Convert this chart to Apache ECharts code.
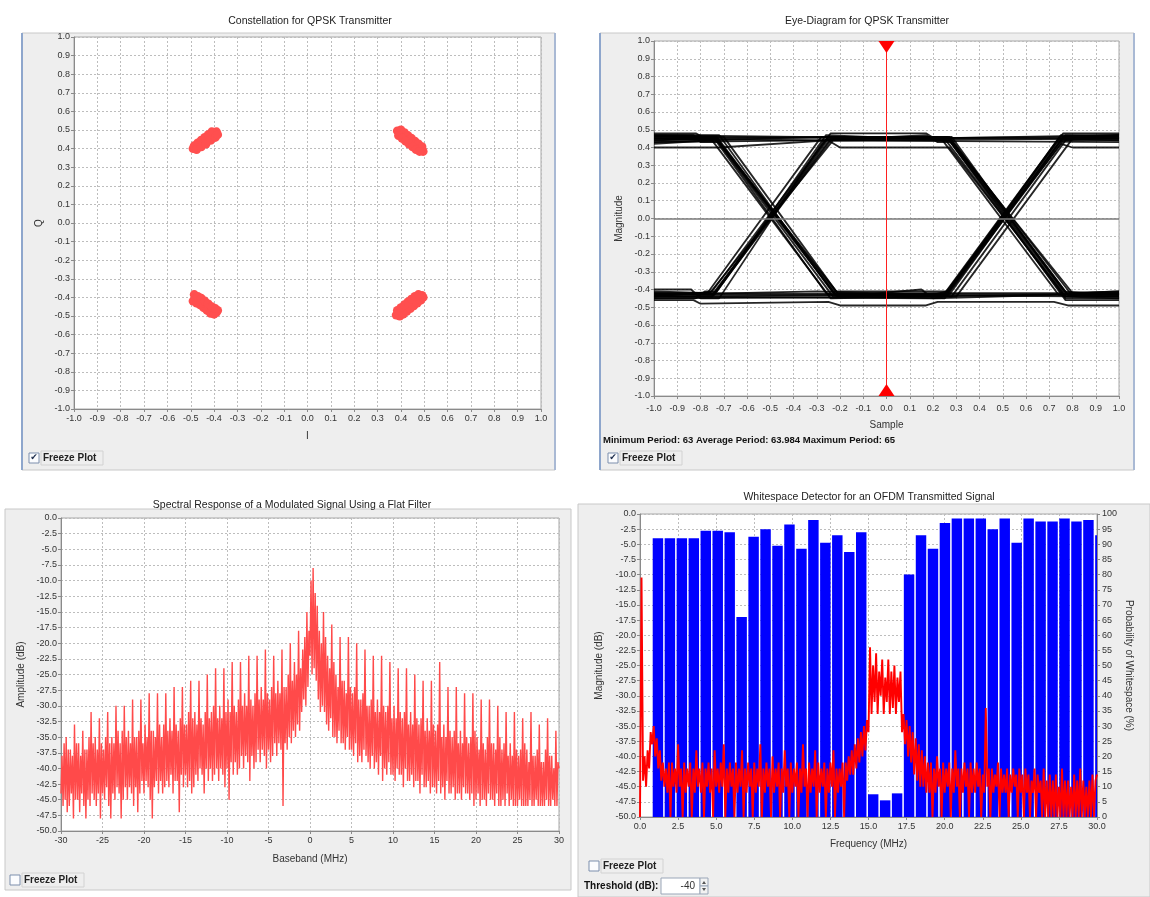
<!DOCTYPE html>
<html>
<head>
<meta charset="utf-8">
<script src="https://cdn.jsdelivr.net/npm/echarts@6/dist/echarts.min.js"></script>
<style>
html,body{margin:0;padding:0;background:#fff;}
#chart{width:1150px;height:897px;}
</style>
</head>
<body>
<div id="chart"></div>
<script>
// ---------------- DATA ----------------
// Panel 1: constellation points (I, Q)
const constTL = [[-0.49,0.40],[-0.48,0.405],[-0.47,0.415],[-0.46,0.425],[-0.45,0.435],[-0.44,0.445],[-0.43,0.455],[-0.42,0.465],[-0.41,0.475],[-0.40,0.485],[-0.39,0.49],[-0.485,0.415],[-0.47,0.43],[-0.455,0.445],[-0.44,0.46],[-0.425,0.475],[-0.41,0.49],[-0.475,0.395],[-0.455,0.41],[-0.435,0.425],[-0.415,0.445],[-0.395,0.46],[-0.385,0.475]];
const constTR = [[0.385,0.495],[0.395,0.485],[0.405,0.475],[0.415,0.465],[0.425,0.455],[0.435,0.445],[0.445,0.435],[0.455,0.425],[0.465,0.415],[0.475,0.405],[0.49,0.395],[0.495,0.385],[0.40,0.50],[0.415,0.485],[0.43,0.47],[0.445,0.455],[0.46,0.44],[0.475,0.425],[0.49,0.41],[0.39,0.47],[0.405,0.455],[0.42,0.44],[0.435,0.425],[0.45,0.41],[0.465,0.395],[0.48,0.385]];
const constBL = [[-0.485,-0.385],[-0.48,-0.40],[-0.47,-0.41],[-0.46,-0.42],[-0.45,-0.43],[-0.44,-0.44],[-0.43,-0.45],[-0.42,-0.46],[-0.41,-0.47],[-0.40,-0.475],[-0.39,-0.48],[-0.385,-0.47],[-0.49,-0.42],[-0.475,-0.43],[-0.46,-0.44],[-0.445,-0.455],[-0.43,-0.47],[-0.415,-0.485],[-0.40,-0.49],[-0.47,-0.395],[-0.455,-0.405],[-0.44,-0.42],[-0.425,-0.435],[-0.41,-0.45],[-0.395,-0.46]];
const constBR = [[0.38,-0.495],[0.39,-0.485],[0.40,-0.475],[0.41,-0.465],[0.42,-0.455],[0.43,-0.445],[0.44,-0.435],[0.45,-0.425],[0.46,-0.415],[0.47,-0.405],[0.48,-0.395],[0.49,-0.39],[0.395,-0.50],[0.41,-0.49],[0.425,-0.475],[0.44,-0.46],[0.455,-0.445],[0.47,-0.43],[0.485,-0.415],[0.495,-0.40],[0.385,-0.47],[0.40,-0.455],[0.415,-0.44],[0.43,-0.425],[0.445,-0.41],[0.46,-0.395],[0.475,-0.385]];

// Panel 2: eye-diagram traces (sample, magnitude)
const eyeTraces = [
 [[-1,0.46],[-0.74,0.46],[-0.22,-0.43],[0.27,-0.43],[0.76,0.46],[1,0.45]],
 [[-1,0.44],[-0.73,0.45],[-0.21,-0.44],[0.26,-0.42],[0.75,0.47],[1,0.46]],
 [[-1,0.47],[-0.72,0.47],[-0.23,-0.42],[0.28,-0.44],[0.77,0.44],[1,0.44]],
 [[-1,0.45],[-0.73,0.46],[-0.22,-0.43],[1,-0.44]],
 [[-1,0.43],[-0.75,0.44],[-0.24,-0.45],[1,-0.42]],
 [[-1,-0.43],[-0.74,-0.42],[-0.25,0.46],[0.27,0.45],[0.78,-0.43],[1,-0.43]],
 [[-1,-0.42],[-0.75,-0.43],[-0.24,0.45],[0.26,0.46],[0.77,-0.44],[1,-0.44]],
 [[-1,-0.44],[-0.73,-0.41],[-0.26,0.47],[0.28,0.44],[0.79,-0.42],[1,-0.42]],
 [[-1,-0.43],[-0.74,-0.43],[-0.25,0.45],[1,0.46]],
 [[-1,-0.41],[-0.76,-0.42],[-0.23,0.44],[1,0.43]],
 [[-1,0.45],[0.27,0.46],[0.78,-0.43],[1,-0.44]],
 [[-1,0.47],[0.25,0.45],[0.77,-0.45],[1,-0.45]],
 [[-1,-0.43],[0.26,-0.43],[0.76,0.46],[1,0.47]],
 [[-1,-0.45],[0.24,-0.44],[0.74,0.45],[1,0.44]],
 [[-1,0.46],[1,0.45]],
 [[-1,0.43],[-0.3,0.44],[1,0.47]],
 [[-1,-0.42],[1,-0.43]],
 [[-1,-0.44],[0.2,-0.45],[1,-0.42]],
 [[-1,0.40],[-0.72,0.40],[-0.25,0.44],[1,0.45]],
 [[-1,0.45],[-0.25,0.44],[-0.2,0.40],[0.27,0.40],[0.77,-0.44],[1,-0.45]],
 [[-1,-0.44],[0.25,-0.43],[0.75,0.42],[0.8,0.40],[1,0.40]],
 [[-1,-0.46],[-0.83,-0.46],[-0.80,-0.48],[-0.25,-0.47],[-0.2,-0.49],[0.17,-0.49],[0.22,-0.47],[0.72,-0.47],[0.78,-0.49],[1,-0.49]],
 [[-1,0.47],[-0.83,0.47],[-0.80,0.43],[-0.72,0.43],[-0.21,-0.42],[1,-0.42]],
 [[-1,-0.40],[-0.84,-0.40],[-0.80,-0.45],[-0.72,-0.45],[-0.27,0.44],[0.17,0.47],[0.22,0.43],[0.28,0.43],[0.8,-0.42],[1,-0.41]],
 [[-1,0.44],[-0.74,0.45],[-0.26,-0.42],[-0.2,-0.44],[0.15,-0.40],[0.2,-0.45],[0.25,-0.44],[0.74,0.44],[1,0.47]],
 [[-1,0.46],[-0.70,0.46],[-0.20,-0.44],[0.30,-0.44],[0.80,0.45],[1,0.45]],
 [[-1,-0.42],[-0.77,-0.42],[-0.28,0.46],[0.23,0.46],[0.74,-0.43],[1,-0.43]],
 [[-1,0.42],[-0.75,0.44],[-0.3,0.46],[0.28,0.46],[0.76,-0.41],[1,-0.43]],
 [[-1,-0.43],[-0.3,-0.41],[0.2,-0.43],[0.26,-0.41],[0.77,0.47],[1,0.47]],
 [[-1,0.48],[-0.82,0.48],[-0.78,0.45],[-0.73,0.45],[-0.22,-0.41],[0.26,-0.41],[0.76,0.48],[1,0.48]],
 [[-1,-0.45],[-0.82,-0.45],[-0.78,-0.41],[-0.75,-0.41],[-0.24,0.48],[0.17,0.48],[0.22,0.44],[0.27,0.44],[0.77,-0.46],[1,-0.46]],
 [[-1,0.45],[-0.73,0.44],[-0.23,-0.44],[0.25,-0.45],[0.76,0.44],[1,0.46]],
 [[-1,-0.44],[-0.75,-0.44],[-0.24,0.44],[0.27,0.44],[0.77,-0.42],[1,-0.41]]
];
const eyePeriodText = 'Minimum Period: 63 Average Period: 63.984 Maximum Period: 65';

// Panel 3: spectral amplitude (dB), sampled every 0.125 MHz from -30 MHz
const specStartMHz = -30, specStepMHz = 0.125;
const specAmp = [
 -44,-38,-46,-36,-45,-35,-47,-37,
 -46,-37,-44,-38,-48,-33,-45,-36,
 -45,-36,-47,-38,-44,-34,-46,-37,
 -48,-37,-45,-35,-46,-31,-44,-36,
 -45,-35,-46,-37,-44,-32,-48,-36,
 -44,-37,-45,-35,-43,-31,-46,-36,
 -48,-35,-44,-36,-45,-30,-43,-34,
 -44,-36,-48,-34,-45,-30,-43,-35,
 -45,-34,-43,-36,-44,-29,-46,-35,
 -43,-35,-47,-34,-44,-29,-42,-36,
 -44,-33,-42,-35,-43,-28,-45,-34,
 -48,-34,-43,-35,-42,-28,-44,-33,
 -42,-35,-44,-33,-43,-28,-42,-34,
 -43,-32,-41,-34,-44,-27,-42,-33,
 -42,-34,-47,-32,-41,-27,-43,-33,
 -41,-33,-43,-31,-42,-26,-44,-32,
 -43,-31,-41,-33,-42,-26,-40,-32,
 -41,-33,-44,-31,-40,-25,-42,-32,
 -40,-31,-42,-30,-41,-24,-40,-32,
 -42,-30,-40,-32,-41,-24,-43,-31,
 -40,-29,-45,-31,-39,-23,-41,-30,
 -39,-31,-41,-29,-40,-23,-38,-30,
 -40,-28,-38,-30,-39,-22,-42,-29,
 -38,-30,-40,-28,-39,-22,-37,-29,
 -39,-27,-37,-29,-38,-21,-40,-28,
 -37,-29,-39,-27,-38,-22,-36,-28,
 -38,-26,-36,-28,-37,-21,-46,-27,
 -36,-27,-37,-25,-35,-20,-36,-26,
 -34,-23,-35,-25,-33,-18,-34,-24,
 -31,-21,-29,-19,-30,-15,-27,-18,
 -22,-10,-25,-8,-24,-12,-26,-14,
 -29,-18,-31,-20,-30,-15,-31,-19,
 -33,-22,-34,-24,-32,-17,-35,-23,
 -35,-25,-36,-27,-34,-19,-36,-26,
 -36,-26,-37,-28,-35,-19,-37,-27,
 -37,-28,-38,-27,-36,-20,-39,-29,
 -38,-29,-39,-28,-37,-21,-38,-30,
 -39,-30,-40,-29,-38,-22,-40,-31,
 -39,-29,-41,-31,-38,-22,-42,-30,
 -40,-31,-41,-30,-39,-23,-41,-32,
 -41,-30,-42,-32,-40,-24,-41,-31,
 -41,-32,-43,-31,-40,-24,-42,-33,
 -42,-31,-41,-33,-43,-25,-42,-32,
 -42,-33,-44,-32,-41,-26,-43,-34,
 -43,-32,-42,-34,-44,-26,-43,-33,
 -43,-34,-44,-33,-42,-23,-44,-35,
 -43,-33,-45,-35,-42,-27,-44,-34,
 -44,-35,-43,-34,-45,-27,-44,-36,
 -44,-34,-45,-36,-43,-28,-44,-35,
 -44,-36,-45,-35,-44,-28,-46,-34,
 -45,-35,-44,-37,-46,-29,-45,-36,
 -45,-37,-46,-35,-44,-29,-45,-36,
 -45,-36,-46,-37,-44,-30,-46,-35,
 -46,-37,-45,-36,-46,-31,-44,-38,
 -46,-36,-45,-38,-46,-31,-46,-37,
 -46,-38,-45,-37,-46,-32,-46,-36,
 -46,-37,-46,-39,-45,-31,-46,-38,
 -46,-38,-45,-37,-46,-33,-46,-39,
 -46,-39,-46,-37,-45,-32,-46,-38,
 -46,-38,-45,-40,-46,-34,-46,-39,
 -40
];

// Panel 4: whitespace probability bins (start MHz, %) and OFDM magnitude (dB every 0.1 MHz)
const wsBinStart = [0.785,1.57,2.355,3.14,3.925,4.71,5.495,6.28,7.065,7.85,8.635,9.42,10.205,10.99,11.775,12.56,13.345,14.13,14.915,15.7,16.485,17.27,18.055,18.84,19.625,20.41,21.195,21.98,22.765,23.55,24.335,25.12,25.905,26.69,27.475,28.26,29.045,29.83];
const wsBinWidth = 0.785;
const wsProb = [92,92,92,92,94.5,94.5,94,66,92.5,95,89.5,96.5,88.5,98,90.5,93,87.5,94,7.5,5.5,7.8,80,93,88.5,97,98.5,98.5,98.5,95,98.5,90.5,98.5,97.5,97.5,98.5,97.5,98,93];
const wsStepMHz = 0.1;
const wsMag = [
 -50,-10.5,-44,-40,-45,-39,-42,-36,-38,-35,
 -40,-37,-42,-39,-44,-41,-45,-42,-46,-41,
 -50,-41,-45,-42,-46,-38,-45,-42,-50,-41,
 -46,-42,-45,-41,-50,-42,-46,-39,-45,-42,
 -46,-41,-50,-42,-45,-41,-46,-42,-50,-39,
 -45,-42,-46,-41,-45,-38,-50,-42,-46,-41,
 -45,-42,-50,-41,-46,-42,-45,-39,-50,-42,
 -46,-41,-45,-42,-50,-41,-46,-42,-45,-38,
 -50,-42,-46,-41,-45,-42,-50,-40,-46,-42,
 -45,-41,-50,-42,-46,-39,-45,-42,-50,-41,
 -46,-42,-45,-41,-50,-42,-46,-38,-45,-42,
 -50,-41,-46,-42,-45,-39,-50,-41,-46,-42,
 -45,-41,-50,-42,-46,-41,-45,-39,-50,-42,
 -46,-42,-45,-41,-50,-41,-44,-40,-43,-39,
 -43,-38,-42,-37,-41,-36,-40,-35,-39,-34,
 -36,-22,-33,-25,-31,-23,-33,-26,-30,-24,
 -33,-27,-31,-24,-33,-26,-32,-25,-33,-27,
 -31,-26,-36,-33,-38,-34,-40,-35,-41,-36,
 -43,-37,-44,-38,-45,-39,-45,-40,-46,-41,
 -46,-41,-50,-42,-46,-40,-45,-42,-50,-41,
 -46,-42,-45,-41,-50,-42,-46,-39,-45,-42,
 -50,-42,-46,-41,-45,-42,-50,-41,-46,-42,
 -46,-41,-45,-42,-50,-43,-46,-32,-45,-42,
 -50,-42,-46,-43,-45,-41,-50,-42,-46,-43,
 -46,-42,-50,-43,-46,-42,-45,-43,-50,-42,
 -46,-43,-50,-42,-46,-43,-50,-44,-46,-42,
 -50,-43,-46,-44,-50,-42,-50,-44,-50,-43,
 -50,-44,-50,-43,-50,-45,-50,-42,-50,-44,
 -50,-44,-50,-45,-50,-43,-50,-44,-50,-42,
 -50,-44,-50,-45,-50,-44,-50,-43,-50,-44,
 -43
];
const thresholdDb = -40;

// ---------------- CHART ----------------
const FONT = 'Liberation Sans, Arial, sans-serif';
const fmt1 = v => (Math.abs(v) < 1e-9 ? 0 : v).toFixed(1);
const fmt0 = v => String(Math.round(v));

function axisBase(extra) {
  return Object.assign({
    type: 'value',
    axisLine: { show: true, onZero: false, lineStyle: { color: '#8a8a8a' } },
    axisTick: { show: true, length: 3, lineStyle: { color: '#8a8a8a' } },
    axisLabel: { fontSize: 9, color: '#333', fontFamily: FONT, margin: 4 },
    splitLine: { show: true, lineStyle: { color: '#bdbdbd', type: [2, 2], width: 1 } },
    nameTextStyle: { fontSize: 10, color: '#333', fontFamily: FONT },
    nameLocation: 'middle'
  }, extra);
}

const gridStyle = { show: true, backgroundColor: '#ffffff', borderColor: '#a8a8a8', borderWidth: 1 };

const eyeSeries = eyeTraces.map((tr, i) => ({
  type: 'line', xAxisIndex: 1, yAxisIndex: 1, data: tr, showSymbol: false, silent: true,
  lineStyle: { color: '#000', width: 1.8, opacity: 0.85 }, z: 3
}));
eyeSeries.push({
  type: 'line', xAxisIndex: 1, yAxisIndex: 1, data: [], silent: true,
  markLine: {
    silent: true, symbol: 'none', label: { show: false },
    data: [
      { yAxis: 0, lineStyle: { color: '#7a7a7a', width: 1.5, type: 'solid' } },
      { xAxis: 0, lineStyle: { color: '#ff2020', width: 1, type: 'solid' } }
    ]
  },
  markPoint: {
    silent: true, label: { show: false }, itemStyle: { color: '#ff0000' },
    data: [
      { coord: [0, 1], symbol: 'triangle', symbolRotate: 180, symbolSize: [16, 12], symbolOffset: [0, 6] },
      { coord: [0, -1], symbol: 'triangle', symbolSize: [16, 12], symbolOffset: [0, -6] }
    ]
  }
});

const constData = constTL.concat(constTR, constBL, constBR);
const specData = specAmp.map((v, i) => [specStartMHz + i * specStepMHz, v]);
const wsMagData = wsMag.map((v, i) => [i * wsStepMHz, v]);
const wsBarData = wsProb.map((p, i) => [wsBinStart[i], wsBinStart[i] + wsBinWidth, p]);

function panelBox(x, y, w, h, leftBlue) {
  const els = [{ type: 'rect', shape: { x, y, width: w, height: h }, style: { fill: '#eeeeee', stroke: '#c8c8c8', lineWidth: 1 }, z: -100, silent: true }];
  if (leftBlue) {
    els.push({ type: 'line', shape: { x1: x, y1: y, x2: x, y2: y + h }, style: { stroke: '#8ea6cc', lineWidth: 2 }, z: -99, silent: true });
    els.push({ type: 'line', shape: { x1: x + w, y1: y, x2: x + w, y2: y + h }, style: { stroke: '#a9b9d4', lineWidth: 2 }, z: -99, silent: true });
  }
  return els;
}
function checkbox(x, y, checked, label) {
  const els = [
    { type: 'rect', shape: { x, y, width: 10, height: 10 }, style: { fill: '#fbfcfe', stroke: '#7d8fad', lineWidth: 1 }, z: 10, silent: true },
    { type: 'rect', shape: { x: x + 12, y: y - 2, width: 62, height: 14 }, style: { fill: 'none', stroke: '#d2d2d2', lineWidth: 1 }, z: 10, silent: true },
    { type: 'text', x: x + 14, y: y + 5, style: { text: label, font: 'bold 10px ' + FONT, fill: '#222', textVerticalAlign: 'middle' }, z: 11, silent: true }
  ];
  if (checked) {
    els.push({ type: 'text', x: x + 5, y: y + 5, style: { text: '✔', font: '9px DejaVu Sans', fill: '#1a2a4a', textAlign: 'center', textVerticalAlign: 'middle' }, z: 11, silent: true });
  }
  return els;
}

const graphics = [].concat(
  panelBox(22, 33, 533, 437, true),
  panelBox(600, 33, 534, 437, true),
  panelBox(5, 509, 566, 381, false),
  panelBox(578, 504, 572, 393, false),
  checkbox(29, 453, true, 'Freeze Plot'),
  checkbox(608, 453, true, 'Freeze Plot'),
  checkbox(10, 875, false, 'Freeze Plot'),
  checkbox(589, 861, false, 'Freeze Plot'),
  [
    { type: 'text', x: 603, y: 440, style: { text: eyePeriodText, font: 'bold 9.5px ' + FONT, fill: '#111', textVerticalAlign: 'middle' }, z: 11, silent: true },
    { type: 'text', x: 584, y: 886, style: { text: 'Threshold (dB):', font: 'bold 10px ' + FONT, fill: '#111', textVerticalAlign: 'middle' }, z: 11, silent: true },
    { type: 'rect', shape: { x: 661, y: 878, width: 39, height: 16 }, style: { fill: '#ffffff', stroke: '#9aa6b8', lineWidth: 1 }, z: 10, silent: true },
    { type: 'text', x: 695, y: 886, style: { text: String(thresholdDb), font: '10px ' + FONT, fill: '#333', textAlign: 'right', textVerticalAlign: 'middle' }, z: 11, silent: true },
    { type: 'rect', shape: { x: 700, y: 878, width: 8, height: 8 }, style: { fill: '#f2f2f2', stroke: '#9aa6b8', lineWidth: 1 }, z: 10, silent: true },
    { type: 'rect', shape: { x: 700, y: 886, width: 8, height: 8 }, style: { fill: '#f2f2f2', stroke: '#9aa6b8', lineWidth: 1 }, z: 10, silent: true },
    { type: 'polygon', shape: { points: [[702, 884], [706, 884], [704, 881]] }, style: { fill: '#555' }, z: 11, silent: true },
    { type: 'polygon', shape: { points: [[702, 888], [706, 888], [704, 891]] }, style: { fill: '#555' }, z: 11, silent: true }
  ]
);

const titleStyle = { fontSize: 10.5, fontWeight: 'normal', color: '#222', fontFamily: FONT };
const option = {
  animation: false,
  backgroundColor: '#ffffff',
  title: [
    { text: 'Constellation for QPSK Transmitter', left: 305, top: 11, textAlign: 'center', textStyle: titleStyle },
    { text: 'Eye-Diagram for QPSK Transmitter', left: 862, top: 11, textAlign: 'center', textStyle: titleStyle },
    { text: 'Spectral Response of a Modulated Signal Using a Flat Filter', left: 287, top: 495, textAlign: 'center', textStyle: titleStyle },
    { text: 'Whitespace Detector for an OFDM Transmitted Signal', left: 864, top: 487, textAlign: 'center', textStyle: titleStyle }
  ],
  graphic: graphics,
  grid: [
    Object.assign({ left: 74, top: 37, width: 467, height: 372 }, gridStyle),
    Object.assign({ left: 654, top: 41, width: 465, height: 355 }, gridStyle),
    Object.assign({ left: 61, top: 518, width: 498, height: 313 }, gridStyle),
    Object.assign({ left: 640, top: 514, width: 457, height: 303 }, gridStyle)
  ],
  xAxis: [
    axisBase({ gridIndex: 0, min: -1, max: 1, interval: 0.1, name: 'I', nameGap: 22, axisLabel: { fontSize: 9, color: '#333', fontFamily: FONT, margin: 5, formatter: fmt1 } }),
    axisBase({ gridIndex: 1, min: -1, max: 1, interval: 0.1, name: 'Sample', nameGap: 24, axisLabel: { fontSize: 9, color: '#333', fontFamily: FONT, margin: 8, formatter: fmt1 } }),
    axisBase({ gridIndex: 2, min: -30, max: 30, interval: 5, name: 'Baseband (MHz)', nameGap: 23, axisLabel: { fontSize: 9, color: '#333', fontFamily: FONT, margin: 5, formatter: fmt0 } }),
    axisBase({ gridIndex: 3, min: 0, max: 30, interval: 2.5, name: 'Frequency (MHz)', nameGap: 22, axisLabel: { fontSize: 9, color: '#333', fontFamily: FONT, margin: 5, formatter: fmt1 } })
  ],
  yAxis: [
    axisBase({ gridIndex: 0, min: -1, max: 1, interval: 0.1, name: 'Q', nameGap: 30, axisLabel: { fontSize: 9, color: '#333', fontFamily: FONT, margin: 4, formatter: fmt1 } }),
    axisBase({ gridIndex: 1, min: -1, max: 1, interval: 0.1, name: 'Magnitude', nameGap: 30, axisLabel: { fontSize: 9, color: '#333', fontFamily: FONT, margin: 4, formatter: fmt1 } }),
    axisBase({ gridIndex: 2, min: -50, max: 0, interval: 2.5, name: 'Amplitude (dB)', nameGap: 35, axisLabel: { fontSize: 9, color: '#333', fontFamily: FONT, margin: 4, formatter: fmt1 } }),
    axisBase({ gridIndex: 3, min: -50, max: 0, interval: 2.5, name: 'Magnitude (dB)', nameGap: 36, axisLabel: { fontSize: 9, color: '#333', fontFamily: FONT, margin: 4, formatter: fmt1 } }),
    axisBase({ gridIndex: 3, position: 'right', min: 0, max: 100, interval: 5, name: 'Probability of Whitespace (%)', nameGap: 27, nameRotate: -90, splitLine: { show: false }, axisLabel: { fontSize: 9, color: '#333', fontFamily: FONT, margin: 5, formatter: fmt0 } })
  ],
  series: [
    {
      type: 'scatter', xAxisIndex: 0, yAxisIndex: 0, data: constData, symbolSize: 9,
      itemStyle: { color: '#ff4f4f', opacity: 1 }, silent: true
    }
  ].concat(eyeSeries, [
    {
      type: 'line', xAxisIndex: 2, yAxisIndex: 2, data: specData, showSymbol: false, silent: true,
      lineStyle: { color: '#ff4a4a', width: 1.4 }
    },
    {
      type: 'custom', xAxisIndex: 3, yAxisIndex: 4, data: wsBarData, silent: true, z: 2,
      renderItem: function (params, api) {
        const p0 = api.coord([api.value(0), api.value(2)]);
        const p1 = api.coord([api.value(1), 0]);
        const rect = echarts.graphic.clipRectByRect(
          { x: p0[0] + 0.75, y: p0[1], width: p1[0] - p0[0] - 1.5, height: p1[1] - p0[1] },
          { x: params.coordSys.x, y: params.coordSys.y, width: params.coordSys.width, height: params.coordSys.height }
        );
        return rect && { type: 'rect', shape: rect, style: { fill: '#0000ff' } };
      }
    },
    {
      type: 'line', xAxisIndex: 3, yAxisIndex: 3, data: wsMagData, showSymbol: false, silent: true, z: 4,
      lineStyle: { color: '#ff0000', width: 1.9 }
    }
  ])
};

const chart = echarts.init(document.getElementById('chart'), null, { renderer: 'canvas' });
chart.setOption(option);
</script>
</body>
</html>
